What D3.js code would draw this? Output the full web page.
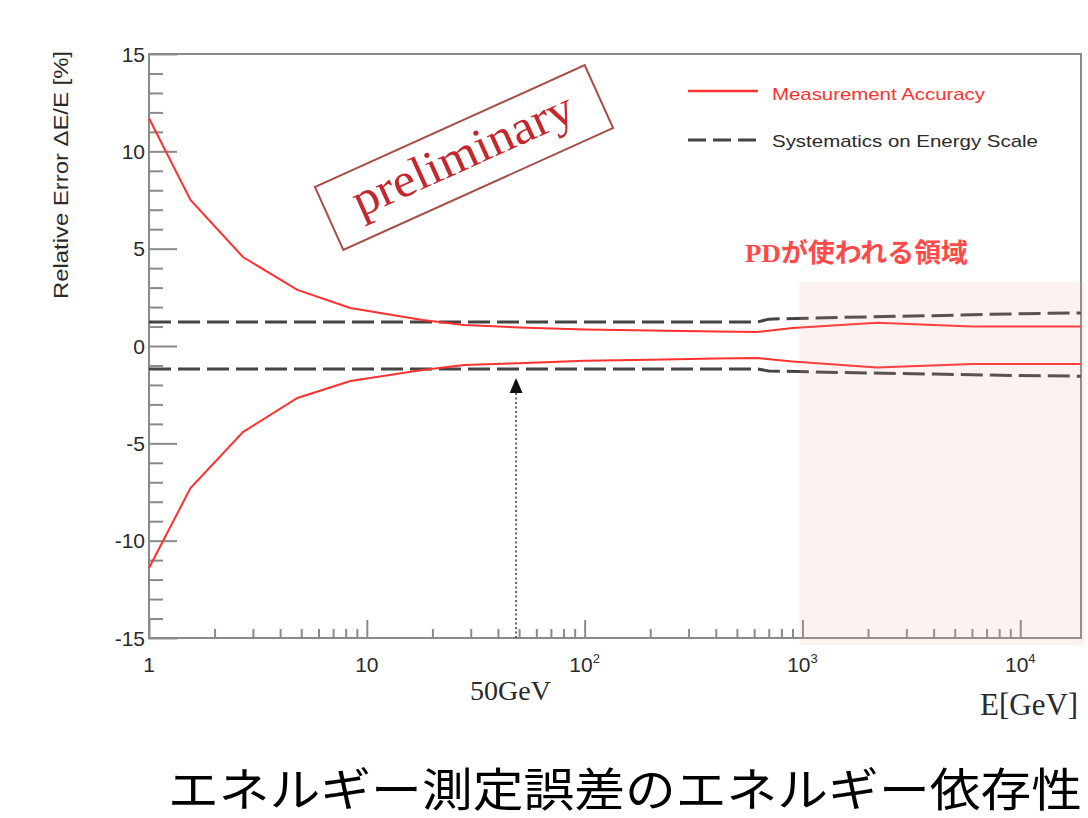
<!DOCTYPE html>
<html>
<head>
<meta charset="utf-8">
<script src="https://cdn.jsdelivr.net/npm/d3@7"></script>
<style>
body { margin: 0; background: #fff; }
svg { display: block; }
</style>
</head>
<body>
<div id="chart"></div>
<script>
// energy points (GeV) and relative error (%)
const energy = [1, 1.55, 2.7, 4.8, 8.4, 18, 28, 50, 100, 200, 400, 620, 900, 2200, 6000, 19000];
const accUpper = [11.7, 7.5, 4.57, 2.88, 1.95, 1.34, 1.08, 0.95, 0.85, 0.8, 0.74, 0.72, 0.92, 1.2, 1.0, 1.0];
const accLower = [-11.4, -7.3, -4.42, -2.67, -1.8, -1.23, -0.98, -0.88, -0.76, -0.7, -0.64, -0.62, -0.8, -1.1, -0.92, -0.92];

const sysEnergy = [1, 620, 700, 1500, 4000, 10000, 19000];
const sysUpper = [1.23, 1.23, 1.38, 1.47, 1.56, 1.66, 1.7];
const sysLower = [-1.18, -1.18, -1.28, -1.36, -1.44, -1.52, -1.55];

const yMajor = [-15, -10, -5, 0, 5, 10, 15];
const xMajor = [1, 10, 100, 1000, 10000];
const xLabelBase = ["1", "10", "10", "10", "10"];
const xLabelExp = ["", "", "2", "3", "4"];

const legendNames = ["Measurement Accuracy", "Systematics on Energy Scale"];
const arrowEnergy = 50;
const pdStart = 1000;

const width = 1088;
const height = 818;
const svg = d3.select("#chart")
    .append("svg")
    .attr("width", width)
    .attr("height", height);

const x = d3.scaleLog().domain([1, 19000]).range([149, 1081]);
const y = d3.scaleLinear().domain([-15, 15]).range([638, 54]);

const red = "#ff3030";
const axisGray = "#8a8a8a";
const textGray = "#2a2a2a";

// minor tick values
const yMinor = d3.range(-15, 16).filter(v => v % 5 !== 0);
const xMinor = [];
for (let d = 1; d < 20000; d *= 10) {
    for (let k = 2; k < 10; k++) if (d * k < 19000) xMinor.push(d * k);
}

// frame
svg.append("rect")
    .attr("x", x.range()[0])
    .attr("y", y.range()[1])
    .attr("width", x.range()[1] - x.range()[0])
    .attr("height", y.range()[0] - y.range()[1])
    .attr("fill", "none")
    .attr("stroke", axisGray)
    .attr("stroke-width", 2);

// ticks point into the plot
function styleAxis(g) {
    g.select(".domain").remove();
    g.selectAll(".tick line").attr("stroke", axisGray).attr("stroke-width", 2);
    g.selectAll(".tick text").remove();
}
svg.append("g")
    .attr("transform", `translate(${x.range()[0]},0)`)
    .call(d3.axisLeft(y).tickValues(yMajor).tickSize(-28))
    .call(styleAxis);
svg.append("g")
    .attr("transform", `translate(${x.range()[0]},0)`)
    .call(d3.axisLeft(y).tickValues(yMinor).tickSize(-14))
    .call(styleAxis);

svg.append("g")
    .attr("transform", `translate(0,${y.range()[0]})`)
    .call(d3.axisBottom(x).tickValues(xMajor).tickSize(-18))
    .call(styleAxis);
svg.append("g")
    .attr("transform", `translate(0,${y.range()[0]})`)
    .call(d3.axisBottom(x).tickValues(xMinor).tickSize(-9))
    .call(styleAxis);

// y tick labels
svg.append("g").selectAll("text")
    .data(yMajor)
    .join("text")
    .attr("x", 145)
    .attr("y", d => y(d) + 7.5)
    .attr("text-anchor", "end")
    .attr("font-family", "Liberation Sans, Arial, sans-serif")
    .attr("font-size", 21)
    .attr("fill", textGray)
    .text(d => d);

// x tick labels
const xl = svg.append("g").selectAll("text")
    .data(xMajor)
    .join("text")
    .attr("x", d => x(d))
    .attr("y", 672)
    .attr("text-anchor", "middle")
    .attr("font-family", "Liberation Sans, Arial, sans-serif")
    .attr("font-size", 21)
    .attr("fill", textGray);
xl.append("tspan").text((d, i) => xLabelBase[i]);
xl.append("tspan")
    .attr("font-size", 13)
    .attr("dy", -9)
    .text((d, i) => xLabelExp[i]);

// y title
svg.append("text")
    .attr("transform", "translate(68,175) rotate(-90)")
    .attr("text-anchor", "middle")
    .attr("font-family", "Liberation Sans, Arial, sans-serif")
    .attr("font-size", 21)
    .attr("textLength", 248)
    .attr("lengthAdjust", "spacingAndGlyphs")
    .attr("fill", textGray)
    .text("Relative Error \u0394E/E [%]");

// lines
const line = (xs, ys) => d3.line()
    .x((d, i) => x(xs[i]))
    .y(d => y(d))(ys);

[sysUpper, sysLower].forEach(s => {
    svg.append("path")
        .attr("d", line(sysEnergy, s))
        .attr("fill", "none")
        .attr("stroke", "#444")
        .attr("stroke-width", 3)
        .attr("stroke-dasharray", "22,7");
});
[accUpper, accLower].forEach(s => {
    svg.append("path")
        .attr("d", line(energy, s))
        .attr("fill", "none")
        .attr("stroke", red)
        .attr("stroke-width", 2);
});

// PD region shading
svg.append("rect")
    .attr("x", x(pdStart) - 3)
    .attr("y", 282)
    .attr("width", 1085 - x(pdStart) + 3)
    .attr("height", 645 - 282)
    .attr("fill", "#e8a090")
    .attr("opacity", 0.14);

svg.append("text")
    .attr("x", 745)
    .attr("y", 262)
    .attr("font-family", "Liberation Serif, Noto Sans CJK JP, serif")
    .attr("font-weight", "bold")
    .attr("font-size", 26)
    .attr("textLength", 223)
    .attr("lengthAdjust", "spacingAndGlyphs")
    .attr("fill", "#ff4a4a")
    .text("PDが使われる領域");

// legend
const legend = svg.append("g");
legend.append("line")
    .attr("x1", 688).attr("x2", 758)
    .attr("y1", 91).attr("y2", 91)
    .attr("stroke", red)
    .attr("stroke-width", 2.5);
legend.append("line")
    .attr("x1", 688).attr("x2", 758)
    .attr("y1", 140).attr("y2", 140)
    .attr("stroke", "#444")
    .attr("stroke-width", 3)
    .attr("stroke-dasharray", "18,7");
legend.append("text")
    .attr("x", 772).attr("y", 100)
    .attr("font-family", "Liberation Sans, Arial, sans-serif")
    .attr("font-size", 17)
    .attr("textLength", 213)
    .attr("lengthAdjust", "spacingAndGlyphs")
    .attr("fill", red)
    .text(legendNames[0]);
legend.append("text")
    .attr("x", 772).attr("y", 147)
    .attr("font-family", "Liberation Sans, Arial, sans-serif")
    .attr("font-size", 17)
    .attr("textLength", 266)
    .attr("lengthAdjust", "spacingAndGlyphs")
    .attr("fill", textGray)
    .text(legendNames[1]);

// "preliminary" stamp
const stamp = svg.append("g")
    .attr("transform", "translate(464,157.5) rotate(-24.3)");
stamp.append("rect")
    .attr("x", -148).attr("y", -34.5)
    .attr("width", 296).attr("height", 69)
    .attr("fill", "none")
    .attr("stroke", "#a5504a")
    .attr("stroke-width", 2);
stamp.append("text")
    .attr("x", 0).attr("y", 12)
    .attr("text-anchor", "middle")
    .attr("font-family", "Liberation Serif, Times New Roman, serif")
    .attr("font-size", 48)
    .attr("textLength", 238)
    .attr("lengthAdjust", "spacingAndGlyphs")
    .attr("fill", "#c4282c")
    .text("preliminary");

// 50 GeV arrow
svg.append("line")
    .attr("x1", x(arrowEnergy) - 3).attr("x2", x(arrowEnergy) - 3)
    .attr("y1", y.range()[0]).attr("y2", 392)
    .attr("stroke", "#333")
    .attr("stroke-width", 1.5)
    .attr("stroke-dasharray", "2,2.5");
svg.append("path")
    .attr("d", d3.line()([[x(arrowEnergy) - 9.5, 393], [x(arrowEnergy) - 3, 378], [x(arrowEnergy) + 3.5, 393]]) + "Z")
    .attr("fill", "#111");

svg.append("text")
    .attr("x", 470).attr("y", 700)
    .attr("font-family", "Liberation Serif, Times New Roman, serif")
    .attr("font-size", 28)
    .attr("fill", textGray)
    .text(arrowEnergy + "GeV");

svg.append("text")
    .attr("x", 980).attr("y", 715)
    .attr("font-family", "Liberation Serif, Times New Roman, serif")
    .attr("font-size", 31)
    .attr("fill", textGray)
    .text("E[GeV]");

// slide title
svg.append("text")
    .attr("x", 168).attr("y", 806)
    .attr("font-family", "Noto Sans CJK JP, sans-serif")
    .attr("font-size", 46)
    .attr("textLength", 914)
    .attr("lengthAdjust", "spacingAndGlyphs")
    .attr("fill", "#000")
    .text("エネルギー測定誤差のエネルギー依存性");
</script>
</body>
</html>
